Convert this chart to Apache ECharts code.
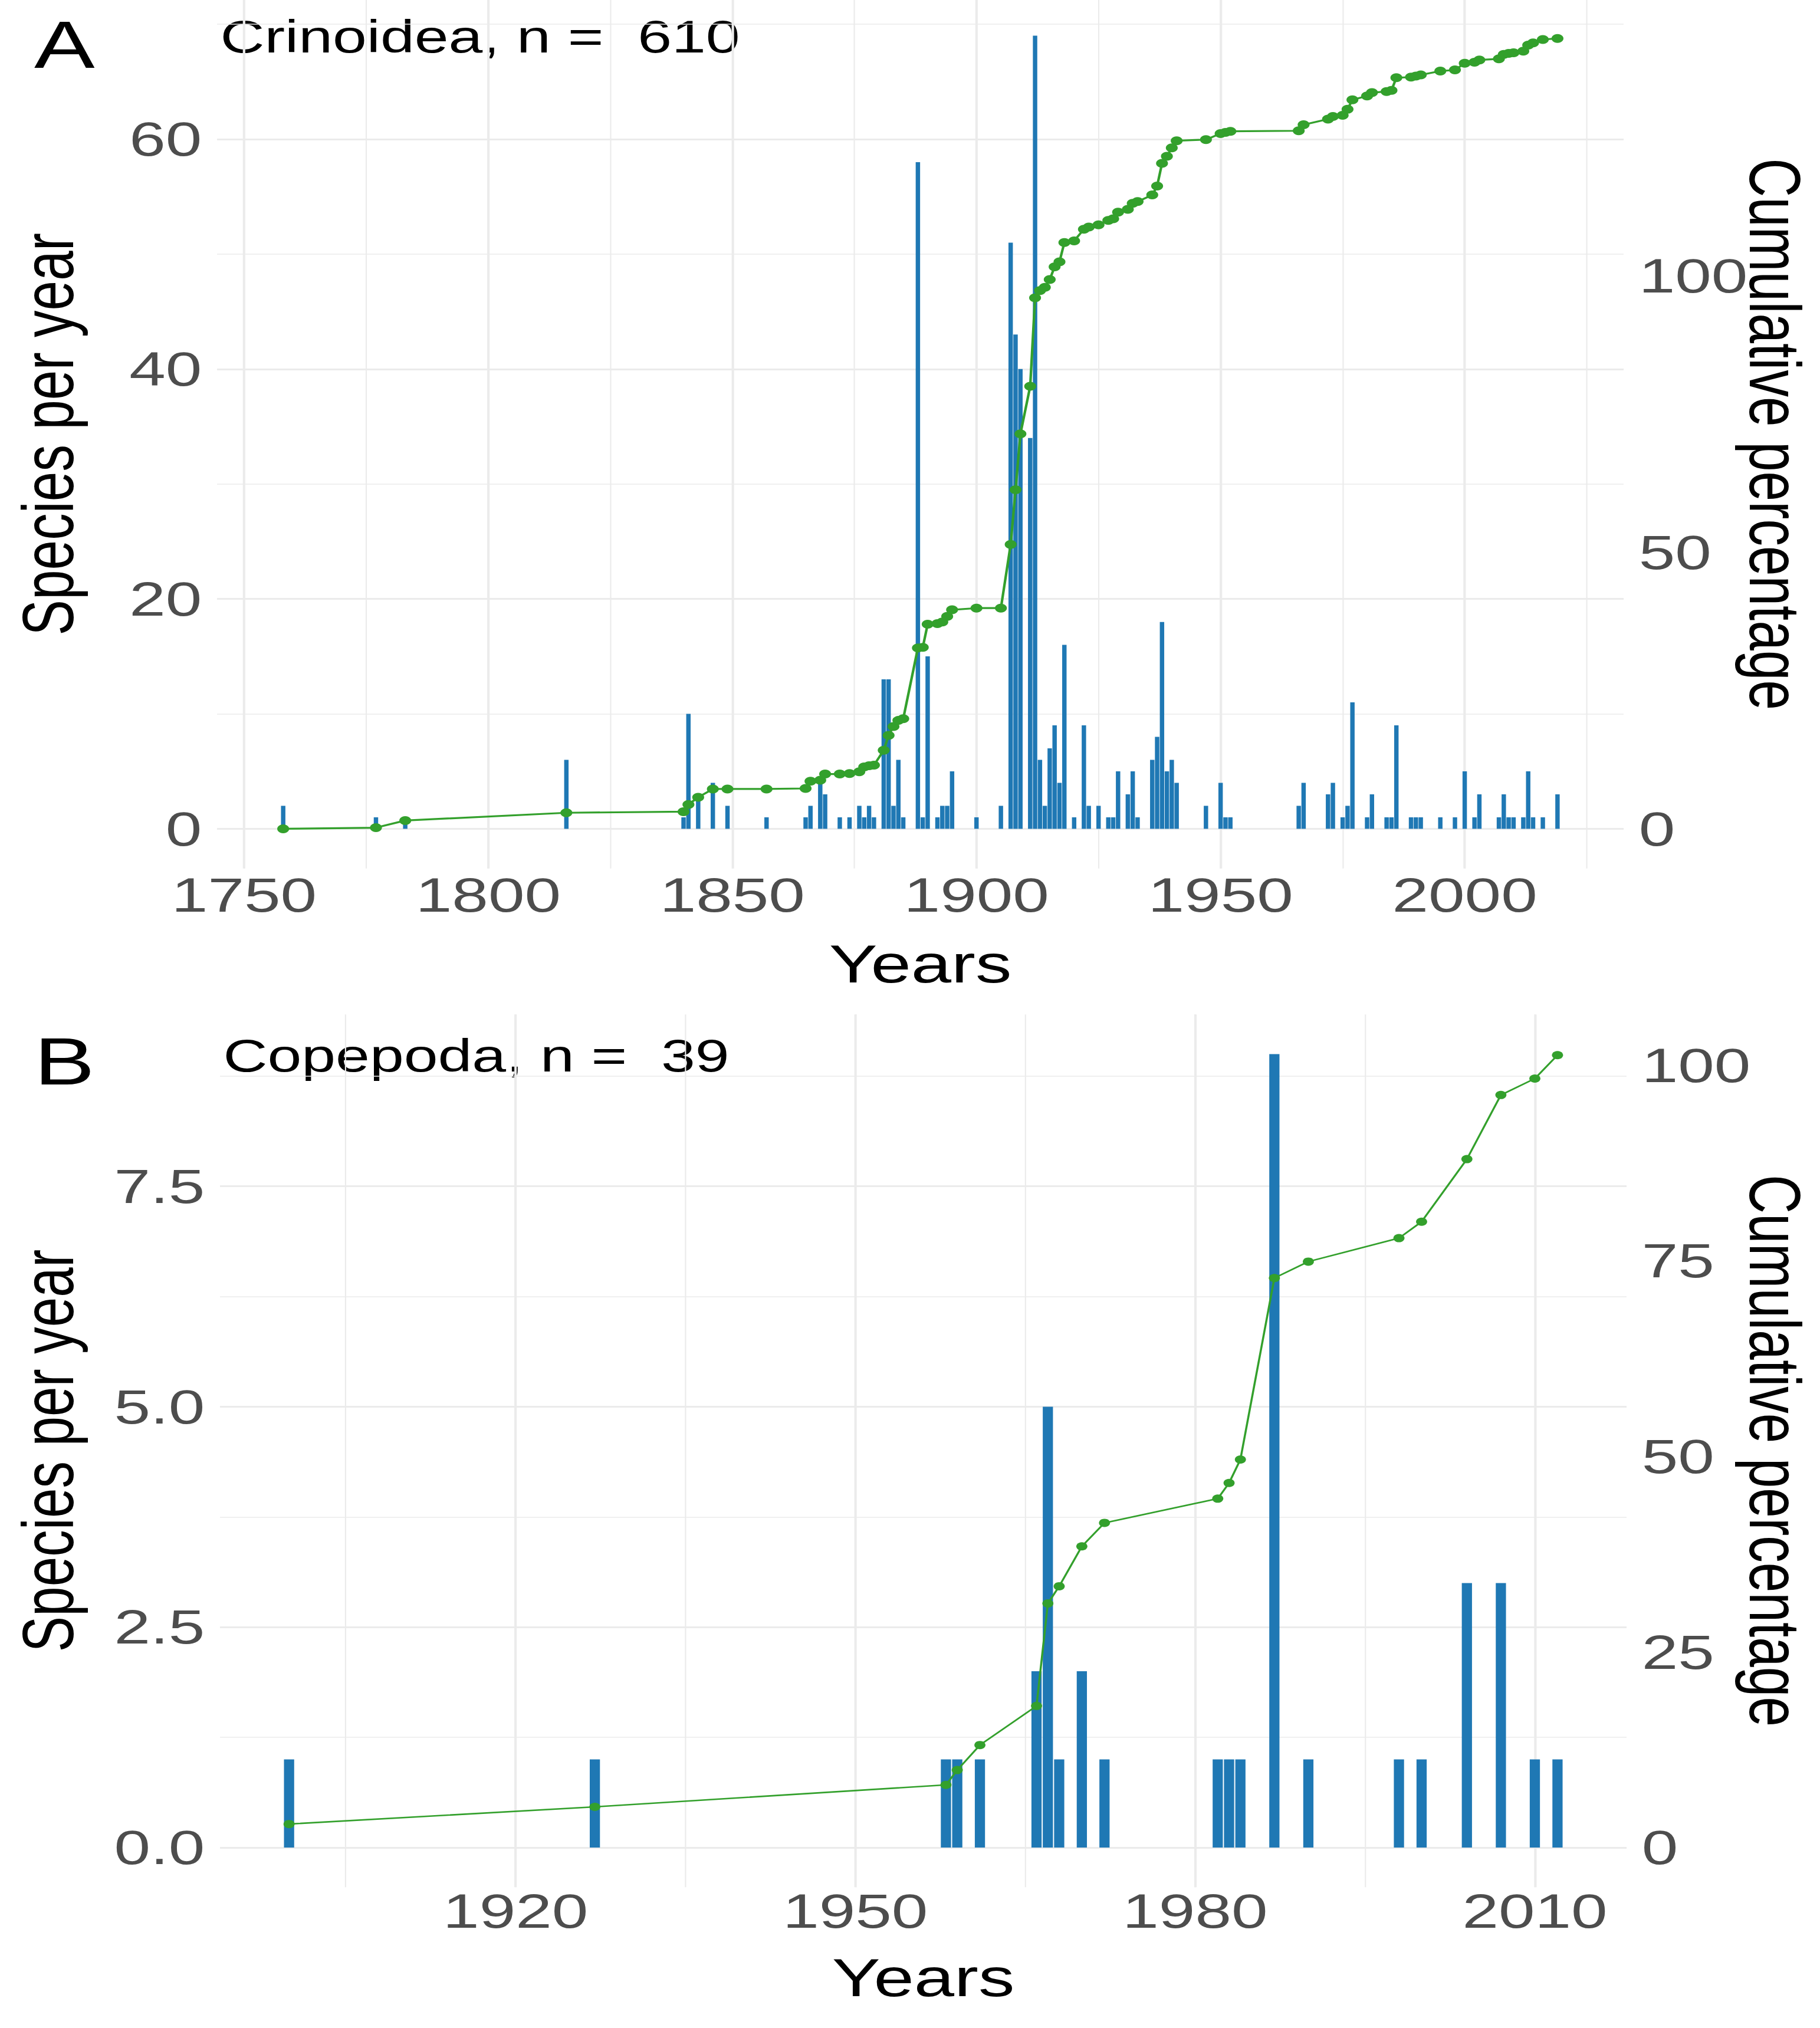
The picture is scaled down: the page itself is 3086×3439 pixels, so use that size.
<!DOCTYPE html>
<html>
<head>
<meta charset="utf-8">
<script src="https://cdn.jsdelivr.net/npm/echarts@6/dist/echarts.min.js"></script>
<style>
html,body{margin:0;padding:0;background:#ffffff;overflow:hidden;width:3086px;height:3439px;}
#chart{width:2286px;height:3439px;transform:scaleX(1.35);transform-origin:0 0;}
</style>
</head>
<body>
<div id="chart"></div>
<script>
// ---------- Panel A : Crinoidea ----------
const yearsA = [1758,1777,1783,1816,1840,1841,1843,1846,1849,1857,
  1865,1866,1868,1869,1872,1874,1876,1877,1878,1879,
  1881,1882,1883,1884,1885,1888,1889,1890,1892,1893,1894,1895,
  1900,1905,1907,1908,1909,1911,1912,1913,1914,1915,1916,1917,1918,
  1920,1922,1923,1925,1927,1928,1929,1931,1932,1933,
  1936,1937,1938,1939,1940,1941,1947,1950,1951,1952,
  1966,1967,1972,1973,1975,1976,1977,1980,1981,1984,1985,1986,
  1989,1990,1991,1995,1998,2000,2002,2003,
  2007,2008,2009,2010,2012,2013,2014,2016,2019];
const countsA = [2,1,1,6,1,10,3,4,2,1,
  1,2,4,3,1,1,2,1,2,1,
  13,13,2,6,1,58,1,15,1,2,2,5,
  1,2,51,43,40,34,69,6,2,7,9,4,16,
  1,9,2,2,1,1,5,3,5,1,
  6,8,18,5,6,4,2,4,1,1,
  2,4,3,4,1,2,11,1,3,1,1,9,
  1,1,1,1,1,5,1,3,
  1,3,1,1,1,5,1,1,3];
const cumPctA = [0,0.2,1.5,2.9,3.1,4.4,5.7,7.2,7.2,7.2,
  7.3,8.6,8.8,9.9,9.9,10.0,10.3,11.2,11.4,11.5,
  14.2,16.9,18.5,19.6,19.9,32.7,32.8,37.0,37.1,37.4,38.4,39.6,
  39.9,39.9,51.4,61.3,71.4,80.0,96.0,97.3,97.9,99.3,101.6,102.5,106.0,
  106.3,108.4,108.8,109.2,110.0,110.3,111.5,112.0,113.1,113.4,
  114.6,116.2,120.3,121.6,123.1,124.4,124.6,125.7,125.9,126.1,
  126.2,127.3,128.3,128.8,129.0,130.1,131.8,132.5,133.1,133.3,133.5,135.8,
  135.9,136.1,136.3,137.0,137.2,138.4,138.6,139.0,
  139.2,140.0,140.2,140.3,140.6,141.7,142.1,142.7,142.9];
const xBreaksA = [1750,1800,1850,1900,1950,2000];
const yBreaksA = [0,20,40,60];
const rBreaksA = [0,50,100];
const titleA = 'Crinoidea, n =  610';

// ---------- Panel B : Copepoda ----------
const yearsB = [1900,1927,1958,1959,1961,1966,1967,1968,1970,1972,
  1982,1983,1984,1987,1990,1998,2000,2004,2007,2010,2012];
const countsB = [1,1,1,1,1,2,5,1,2,1,1,1,1,9,1,1,1,3,3,1,1];
const cumPctB = [3.0,5.2,8.0,9.9,13.1,18.1,31.2,33.4,38.5,41.5,
  44.6,46.6,49.6,72.8,74.9,77.9,80.0,88.0,96.2,98.3,101.3];
const xBreaksB = [1920,1950,1980,2010];
const yBreaksB = [0,2.5,5,7.5];
const rBreaksB = [0,25,50,75,100];
const titleB = 'Copepoda, n =  39';

// ---------- styling / layout ----------
const FONT = '"Liberation Sans", Arial, Helvetica, sans-serif';
const BAR = '#1F78B4', LINE = '#33A02C', GRID = '#EBEBEB', TICK = '#4D4D4D';
const TICK_FS = 82, TITLE_FS = 91, TAG_FS = 114, HEAD_FS = 77;

const panels = [
  {years: yearsA, counts: countsA, cum: cumPctA, xb: xBreaksA, yb: yBreaksA, rb: rBreaksA,
   xMin: 1744.45, xMax: 2032.55, yMin: -3.45, yMax: 72.11, k: 2.078,
   left: 272.6, top: 0, width: 1766.7, height: 1472.7, xMargin: 4, yFmt: v => String(v),
   symbol: 15, lw: 3.2, tag: 'A', head: titleA, tagY: 75, headY: 62, yearsY: 1634},
  {years: yearsB, counts: countsB, cum: cumPctB, xb: xBreaksB, yb: yBreaksB, rb: rBreaksB,
   xMin: 1893.9, xMax: 2018.1, yMin: -0.45, yMax: 9.45, k: 11.27,
   left: 276.3, top: 1720.2, width: 1766.7, height: 1480, xMargin: 0, yFmt: v => v.toFixed(1),
   symbol: 14, lw: 2.6, tag: 'B', head: titleB, tagY: 1799, headY: 1790, yearsY: 3353}
];

function inList(v, list) { return list.some(b => Math.abs(b - v) < 1e-6); }

const grids = [], xAxes = [], yAxes = [], series = [], graphics = [];

panels.forEach((p, gi) => {
  grids.push({left: p.left, top: p.top, width: p.width, height: p.height,
    containLabel: false, outerBoundsMode: 'none'});
  const xStep = p.xb[1] - p.xb[0], yStep = p.yb[1] - p.yb[0], rStep = p.rb[1] - p.rb[0];
  const major = {show: true, showMinLine: false, showMaxLine: false, lineStyle: {color: GRID, width: 3}};
  const minor = {show: true, showMinLine: false, showMaxLine: false, lineStyle: {color: GRID, width: 1.6}};
  const xi = xAxes.length;
  // minor x grid
  xAxes.push({type: 'value', gridIndex: gi, position: 'bottom', min: p.xMin, max: p.xMax,
    minInterval: xStep / 2, maxInterval: xStep / 2, splitNumber: 10,
    axisLine: {show: false}, axisTick: {show: false}, axisLabel: {show: false}, splitLine: minor});
  // major x axis with labels
  xAxes.push({type: 'value', gridIndex: gi, position: 'bottom', min: p.xMin, max: p.xMax,
    minInterval: xStep, maxInterval: xStep, splitNumber: 5,
    axisLine: {show: false}, axisTick: {show: false}, splitLine: major,
    axisLabel: {show: true, showMinLabel: false, showMaxLabel: false, margin: p.xMargin,
      color: TICK, fontSize: TICK_FS, lineHeight: TICK_FS, fontFamily: FONT,
      formatter: v => inList(v, p.xb) ? String(v) : ''}});
  const yi = yAxes.length;
  yAxes.push({type: 'value', gridIndex: gi, position: 'left', min: p.yMin, max: p.yMax,
    minInterval: yStep / 2, maxInterval: yStep / 2, splitNumber: 10,
    axisLine: {show: false}, axisTick: {show: false}, axisLabel: {show: false}, splitLine: minor});
  yAxes.push({type: 'value', gridIndex: gi, position: 'left', min: p.yMin, max: p.yMax,
    minInterval: yStep, maxInterval: yStep, splitNumber: 4,
    axisLine: {show: false}, axisTick: {show: false}, splitLine: major,
    axisLabel: {show: true, showMinLabel: false, showMaxLabel: false, margin: 19,
      color: TICK, fontSize: TICK_FS, fontFamily: FONT,
      formatter: v => inList(v, p.yb) ? p.yFmt(v) : ''}});
  yAxes.push({type: 'value', gridIndex: gi, position: 'right', min: p.yMin * p.k, max: p.yMax * p.k,
    minInterval: rStep, maxInterval: rStep, splitNumber: 4,
    axisLine: {show: false}, axisTick: {show: false}, splitLine: {show: false},
    axisLabel: {show: true, showMinLabel: false, showMaxLabel: false, margin: 19,
      color: TICK, fontSize: TICK_FS, fontFamily: FONT,
      formatter: v => inList(v, p.rb) ? String(v) : ''}});

  const pxPerYear = p.width / (p.xMax - p.xMin);
  series.push({type: 'bar', xAxisIndex: xi + 1, yAxisIndex: yi + 1,
    barWidth: pxPerYear * 0.9, itemStyle: {color: BAR}, z: 2, silent: true,
    data: p.years.map((y, i) => [y, p.counts[i]])});
  series.push({type: 'line', xAxisIndex: xi + 1, yAxisIndex: yi + 2,
    symbol: 'circle', symbolSize: p.symbol, showSymbol: true, showAllSymbol: true,
    lineStyle: {color: LINE, width: p.lw}, itemStyle: {color: LINE}, z: 3, silent: true,
    data: p.years.map((y, i) => [y, p.cum[i]])});

  const centerY = p.top + p.height / 2;
  graphics.push({type: 'text', x: 81, y: p.tagY, style: {text: p.tag, fontSize: TAG_FS, fontFamily: FONT,
    fill: '#000', textAlign: 'center', textVerticalAlign: 'middle', align: 'center', verticalAlign: 'middle'}});
  graphics.push({type: 'text', x: p.left + 4, y: p.headY, style: {text: p.head, fontSize: HEAD_FS, fontFamily: FONT,
    fill: '#000', textAlign: 'left', textVerticalAlign: 'middle', align: 'left', verticalAlign: 'middle'}});
  graphics.push({type: 'text', x: 60, y: centerY, rotation: Math.PI / 2, style: {text: 'Species per year',
    fontSize: TITLE_FS, fontFamily: FONT, fill: '#000', textAlign: 'center', textVerticalAlign: 'middle',
    align: 'center', verticalAlign: 'middle'}});
  graphics.push({type: 'text', x: 2229, y: centerY, rotation: -Math.PI / 2, style: {text: 'Cumulative percentage',
    fontSize: TITLE_FS, fontFamily: FONT, fill: '#000', textAlign: 'center', textVerticalAlign: 'middle',
    align: 'center', verticalAlign: 'middle'}});
  graphics.push({type: 'text', x: p.left + p.width / 2, y: p.yearsY, style: {text: 'Years',
    fontSize: TITLE_FS, fontFamily: FONT, fill: '#000', textAlign: 'center', textVerticalAlign: 'middle',
    align: 'center', verticalAlign: 'middle'}});
});

const chart = echarts.init(document.getElementById('chart'), null, {renderer: 'svg', width: 2286, height: 3439});
chart.setOption({
  animation: false,
  backgroundColor: '#ffffff',
  grid: grids,
  xAxis: xAxes,
  yAxis: yAxes,
  series: series,
  graphic: graphics
});
</script>
</body>
</html>
